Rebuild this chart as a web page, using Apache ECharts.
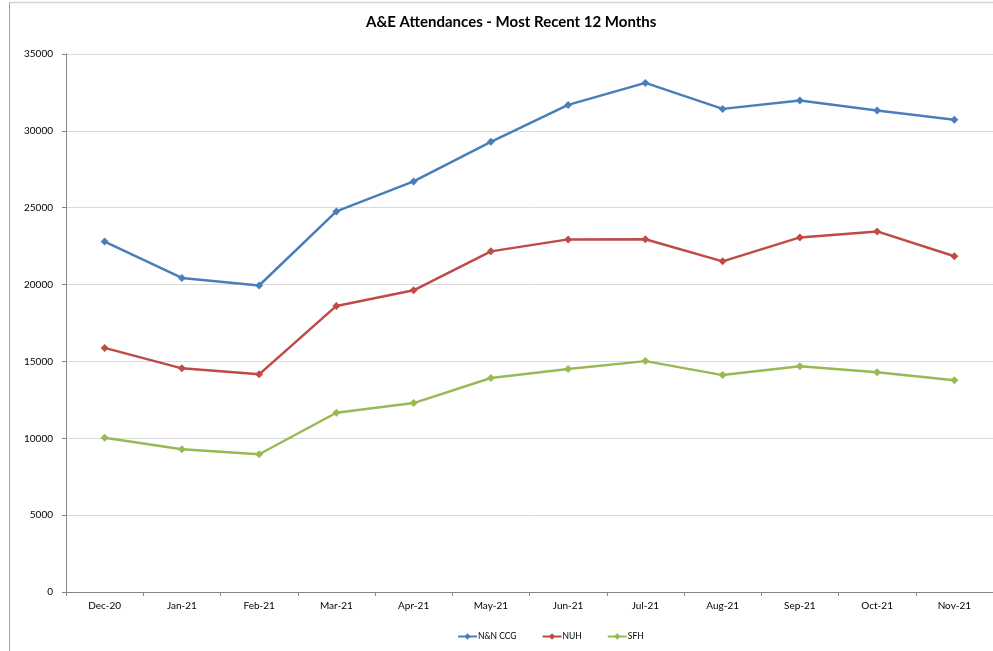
<!DOCTYPE html>
<html lang="en">
<head>
    <meta charset="UTF-8">
    <title>A&E Attendances</title>
    <script src="https://cdn.jsdelivr.net/npm/echarts@6/dist/echarts.min.js"></script>
    <style>
        html, body { margin: 0; padding: 0; background: #fff; }
    </style>
</head>
<body>
<div id="main" style="width: 993px;height:651px;"></div>

<script type="text/javascript">
    // months on the x axis
    var months = ['Dec-20', 'Jan-21', 'Feb-21', 'Mar-21', 'Apr-21', 'May-21',
                  'Jun-21', 'Jul-21', 'Aug-21', 'Sep-21', 'Oct-21', 'Nov-21'];
    // attendances per organisation
    var nnCcg = [22800, 20430, 19940, 24760, 26710, 29290, 31690, 33120, 31430, 31970, 31320, 30720];
    var nuh   = [15880, 14550, 14160, 18610, 19630, 22160, 22940, 22950, 21510, 23070, 23460, 21840];
    var sfh   = [10040,  9290,  8960, 11660, 12290, 13920, 14500, 15020, 14110, 14680, 14290, 13770];

    var FONT = 'Lato, "Open Sans", sans-serif';

    function line(name, data, color) {
        return {
            name: name,
            type: 'line',
            data: data,
            symbol: 'diamond',
            symbolSize: 8,
            itemStyle: { color: color },
            lineStyle: { color: color, width: 2.5 },
            animation: false
        };
    }

    var myChart = echarts.init(document.getElementById('main'));
    var option = {
        backgroundColor: '#fff',
        title: {
            text: 'A&E Attendances - Most Recent 12 Months',
            left: 361,
            top: 10,
            textStyle: { fontFamily: FONT, fontSize: 15, fontWeight: 'bold', color: '#000' }
        },
        // chart frame: only top and left edges are visible in the picture
        graphic: [
            {
                type: 'line',
                shape: { x1: 9.5, y1: 2.5, x2: 993, y2: 2.5 },
                style: { stroke: '#d4d4d4', lineWidth: 1.5 },
                silent: true
            },
            {
                type: 'line',
                shape: { x1: 9.5, y1: 2.5, x2: 9.5, y2: 651 },
                style: { stroke: '#a0a0a0', lineWidth: 1 },
                silent: true
            }
        ],
        legend: {
            top: 627,
            left: 452,
            itemGap: 25,
            itemWidth: 19,
            itemHeight: 8,
            textStyle: { fontFamily: FONT, fontSize: 8.5, color: '#000', padding: [0, 0, 0, -4] },
            data: ['N&N CCG', 'NUH', 'SFH']
        },
        grid: {
            left: 66,
            right: 0,
            top: 54,
            bottom: 59,
            containLabel: false
        },
        xAxis: {
            type: 'category',
            data: months,
            boundaryGap: true,
            axisLine: { lineStyle: { color: '#868686' } },
            axisTick: { show: true, length: 4, lineStyle: { color: '#868686' } },
            axisLabel: { fontFamily: FONT, fontSize: 10, color: '#000', margin: 9 }
        },
        yAxis: {
            type: 'value',
            min: 0,
            max: 35000,
            interval: 5000,
            axisLine: { show: true, lineStyle: { color: '#868686' } },
            axisTick: { show: true, length: 4, lineStyle: { color: '#868686' } },
            axisLabel: {
                fontFamily: FONT, fontSize: 10, color: '#000', margin: 13,
                formatter: function (v) { return String(v); }
            },
            splitLine: { lineStyle: { color: '#d9d9d9' } }
        },
        series: [
            line('N&N CCG', nnCcg, '#4a7ebb'),
            line('NUH', nuh, '#be4b48'),
            line('SFH', sfh, '#98b954')
        ]
    };
    myChart.setOption(option);
</script>
</body>
</html>
